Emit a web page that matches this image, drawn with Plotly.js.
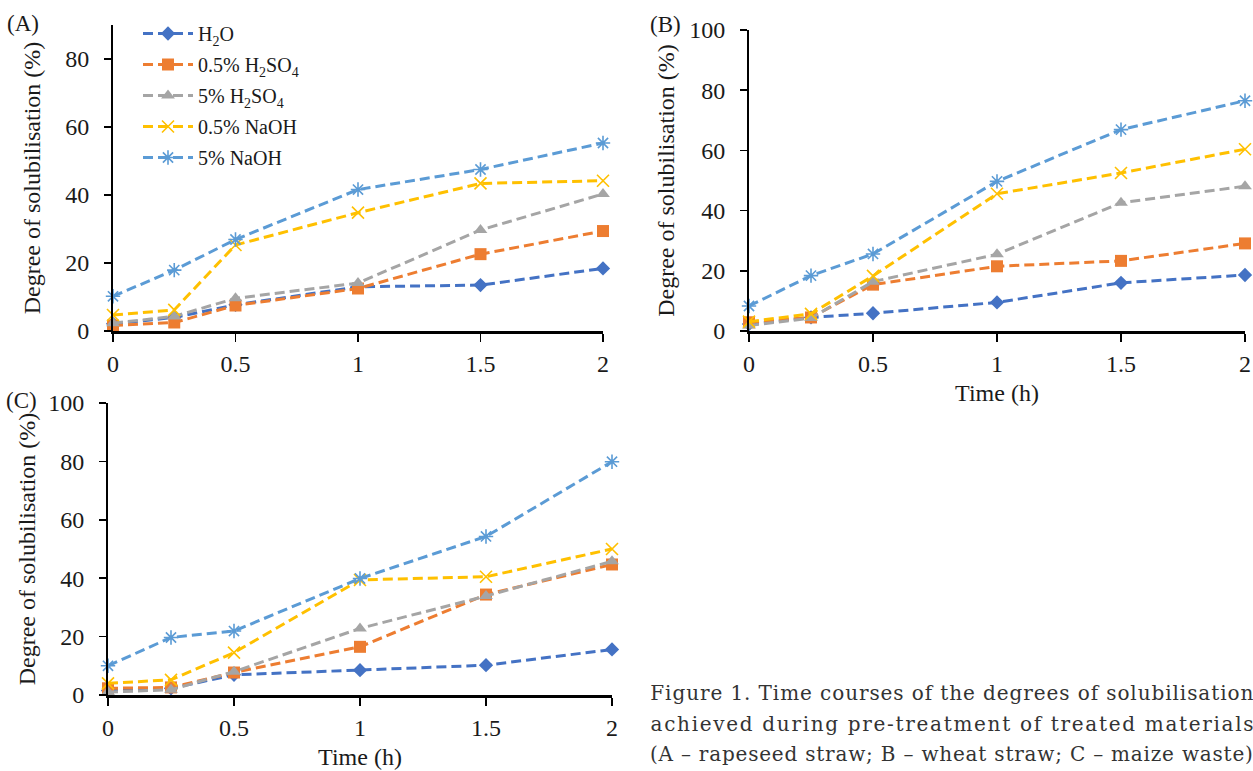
<!DOCTYPE html>
<html>
<head>
<meta charset="utf-8">
<script src="https://cdn.plot.ly/plotly-3.0.1.min.js"></script>
<style>
  html, body { margin: 0; padding: 0; background: #ffffff; }
  #chart { width: 1253px; height: 771px; }
</style>
</head>
<body>
<div id="chart"></div>
<script>
// ---- data ----
const time = [0, 0.25, 0.5, 1, 1.5, 2];
const seriesNames = ['H<sub>2</sub>O', '0.5% H<sub>2</sub>SO<sub>4</sub>', '5% H<sub>2</sub>SO<sub>4</sub>', '0.5% NaOH', '5% NaOH'];

// (A) rapeseed straw
const h2oA    = [2.1, 4.0, 7.7, 13.0, 13.5, 18.4];
const sulf05A = [1.6, 2.5, 7.5, 12.5, 22.6, 29.4];
const sulf5A  = [2.3, 4.3, 9.6, 14.1, 29.7, 40.3];
const naoh05A = [4.7, 6.2, 25.3, 34.8, 43.4, 44.2];
const naoh5A  = [10.2, 17.9, 26.9, 41.6, 47.5, 55.3];

// (B) wheat straw
const h2oB    = [2.3, 4.5, 5.9, 9.5, 16.0, 18.6];
const sulf05B = [2.9, 4.5, 15.4, 21.5, 23.3, 29.1];
const sulf5B  = [1.8, 4.3, 16.4, 25.5, 42.6, 48.1];
const naoh05B = [3.1, 5.7, 18.3, 45.6, 52.5, 60.4];
const naoh5B  = [8.3, 18.4, 25.6, 49.7, 66.9, 76.5];

// (C) maize waste
const h2oC    = [1.5, 2.3, 6.9, 8.5, 10.2, 15.6];
const sulf05C = [2.3, 2.6, 7.7, 16.5, 34.4, 44.7];
const sulf5C  = [1.0, 1.8, 8.0, 22.8, 33.9, 45.8];
const naoh05C = [4.0, 5.2, 14.5, 39.4, 40.5, 50.0];
const naoh5C  = [10.0, 19.7, 21.9, 39.9, 54.3, 79.9];

const xTickVals = [0, 0.5, 1, 1.5, 2];
const xTickText = ['0', '0.5', '1', '1.5', '2'];
const yTicksA = [0, 20, 40, 60, 80];
const yTicksBC = [0, 20, 40, 60, 80, 100];

const panelLabels = ['(A)', '(B)', '(C)'];
const yTitle = 'Degree of solubilisation (%)';
const xTitle = 'Time (h)';
const captionLines = [
  'Figure 1. Time courses of the degrees of solubilisation',
  'achieved during pre-treatment of treated materials',
  '(A \u2013 rapeseed straw; B \u2013 wheat straw; C \u2013 maize waste)'
];

// ---- styles ----
const colors = ['#4472C4', '#ED7D31', '#A5A5A5', '#FFC000', '#5B9BD5'];
const symbols = ['diamond', 'square', 'triangle-up', 'x-thin-open', 'asterisk-open'];
const sizes = [11, 12, 12, 12, 12];
const W = 1253, H = 771;
const px = v => v / W;
const py = v => 1 - v / H;

const panels = [
  {data: [h2oA, sulf05A, sulf5A, naoh05A, naoh5A], xa: 'x', ya: 'y', legend: true},
  {data: [h2oB, sulf05B, sulf5B, naoh05B, naoh5B], xa: 'x2', ya: 'y2', legend: false},
  {data: [h2oC, sulf05C, sulf5C, naoh05C, naoh5C], xa: 'x3', ya: 'y3', legend: false}
];

const traces = [];
panels.forEach(p => {
  p.data.forEach((vals, i) => {
    const open = symbols[i].indexOf('open') >= 0;
    traces.push({
      type: 'scatter', mode: 'lines+markers',
      x: time, y: vals, xaxis: p.xa, yaxis: p.ya,
      name: seriesNames[i], legendgroup: 'g' + i, showlegend: p.legend,
      cliponaxis: false,
      line: {color: colors[i], width: 3, dash: '10px,5px'},
      marker: {symbol: symbols[i], size: sizes[i], color: colors[i],
               line: {color: colors[i], width: open ? 1.6 : 0}}
    });
  });
});

const font = 'Liberation Serif, Times New Roman, serif';
const txt = '#1a1a1a';
function xAxis(domain, anchor, title) {
  const ax = {
    domain: domain, anchor: anchor, range: [0, 2], fixedrange: true,
    tickvals: xTickVals, ticktext: xTickText,
    ticks: 'outside', ticklen: 8, tickwidth: 1.5, tickcolor: '#000',
    showline: true, linecolor: '#000', linewidth: 2.5,
    showgrid: false, zeroline: false,
    tickfont: {family: font, size: 24, color: txt},
    ticklabelstandoff: 2
  };
  if (title) ax.title = {text: title, font: {family: font, size: 24, color: txt}, standoff: 8};
  return ax;
}
function yAxis(domain, anchor, range, ticks, standoff) {
  return {
    domain: domain, anchor: anchor, range: range, fixedrange: true,
    tickvals: ticks, ticks: 'outside', ticklen: 7, tickwidth: 1.5, tickcolor: '#000',
    showline: true, linecolor: '#000', linewidth: 2,
    showgrid: false, zeroline: false,
    tickfont: {family: font, size: 24, color: txt},
    ticklabelstandoff: 10,
    title: {text: yTitle, font: {family: font, size: 24, color: txt}, standoff: standoff}
  };
}

const annotations = [
  {text: panelLabels[0], x: px(23), y: py(23)},
  {text: panelLabels[1], x: px(665), y: py(25)},
  {text: panelLabels[2], x: px(21), y: py(400)}
].map(a => Object.assign(a, {xref: 'paper', yref: 'paper', xanchor: 'center', yanchor: 'middle',
  showarrow: false, font: {family: font, size: 23, color: txt}}));

const capY = [693, 724, 754];
captionLines.forEach((t, i) => {
  annotations.push({text: t, xref: 'paper', yref: 'paper', x: px(951.5), y: py(capY[i]),
    xanchor: 'center', yanchor: 'middle', showarrow: false, align: 'center',
    font: {family: 'DejaVu Serif, serif', size: 20, color: '#333'}});
});

const layout = {
  width: W, height: H, margin: {l: 0, r: 0, t: 0, b: 0},
  paper_bgcolor: '#fff', plot_bgcolor: '#fff', showlegend: true,
  xaxis:  xAxis([px(113), px(603)], 'y', null),
  yaxis:  yAxis([py(331), py(25)], 'x', [0, 90], yTicksA, 18),
  xaxis2: xAxis([px(749), px(1245)], 'y2', xTitle),
  yaxis2: yAxis([py(331), py(30)], 'x2', [0, 100], yTicksBC, 8),
  xaxis3: xAxis([px(108), px(612)], 'y3', xTitle),
  yaxis3: yAxis([py(695), py(403)], 'x3', [0, 100], yTicksBC, 6),
  legend: {x: px(138), y: py(14), xanchor: 'left', yanchor: 'top', bgcolor: 'rgba(0,0,0,0)',
           font: {family: font, size: 20, color: txt}, tracegroupgap: 2, itemwidth: 50},
  annotations: annotations
};

Plotly.newPlot('chart', traces, layout, {displayModeBar: false, staticPlot: true}).then(gd => {
  // justify caption lines across the full caption width
  const n0 = panelLabels.length;
  captionLines.forEach((t, i) => {
    const el = gd.querySelector('g.annotation[data-index="' + (n0 + i) + '"] text.annotation-text');
    if (el) { el.setAttribute('textLength', '603'); el.setAttribute('lengthAdjust', 'spacing'); }
  });
});
</script>
</body>
</html>
